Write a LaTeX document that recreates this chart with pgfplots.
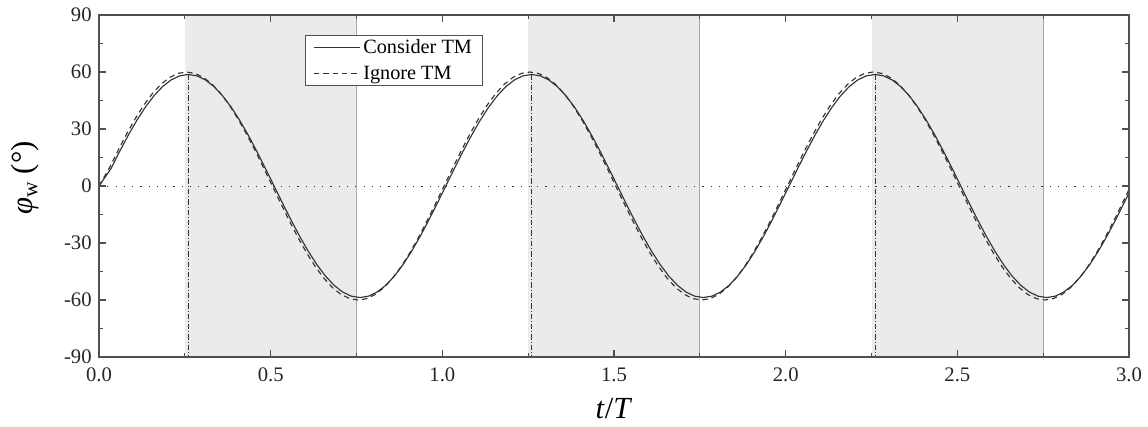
\documentclass[border=0pt]{standalone}
\usepackage{fontspec}
\setmainfont{Liberation Serif}
\usepackage{pgfplots}
\usepackage{pgfplotstable}
\pgfplotsset{compat=1.18}
\definecolor{shade}{HTML}{EBEBEB}
\definecolor{edge}{HTML}{A8A8A8}
\definecolor{curve}{HTML}{333333}
\definecolor{axc}{HTML}{505050}

\pgfplotstableread{
t v
0 0
0.035 9.18
0.06 18.14
0.085 26.65
0.11 34.50
0.135 41.51
0.16 47.49
0.185 52.30
0.21 55.83
0.235 57.98
0.26 58.70
0.285 57.98
0.31 55.83
0.335 52.30
0.36 47.49
0.385 41.51
0.41 34.50
0.435 26.65
0.46 18.14
0.485 9.18
0.51 0
0.535 -9.18
0.56 -18.14
0.585 -26.65
0.61 -34.50
0.635 -41.51
0.66 -47.49
0.685 -52.30
0.71 -55.83
0.735 -57.98
0.76 -58.70
0.785 -57.98
0.81 -55.83
0.835 -52.30
0.86 -47.49
0.885 -41.51
0.91 -34.50
0.935 -26.65
0.96 -18.14
0.985 -9.18
1.01 0
1.035 9.18
1.06 18.14
1.085 26.65
1.11 34.50
1.135 41.51
1.16 47.49
1.185 52.30
1.21 55.83
1.235 57.98
1.26 58.70
1.285 57.98
1.31 55.83
1.335 52.30
1.36 47.49
1.385 41.51
1.41 34.50
1.435 26.65
1.46 18.14
1.485 9.18
1.51 0
1.535 -9.18
1.56 -18.14
1.585 -26.65
1.61 -34.50
1.635 -41.51
1.66 -47.49
1.685 -52.30
1.71 -55.83
1.735 -57.98
1.76 -58.70
1.785 -57.98
1.81 -55.83
1.835 -52.30
1.86 -47.49
1.885 -41.51
1.91 -34.50
1.935 -26.65
1.96 -18.14
1.985 -9.18
2.01 0
2.035 9.18
2.06 18.14
2.085 26.65
2.11 34.50
2.135 41.51
2.16 47.49
2.185 52.30
2.21 55.83
2.235 57.98
2.26 58.70
2.285 57.98
2.31 55.83
2.335 52.30
2.36 47.49
2.385 41.51
2.41 34.50
2.435 26.65
2.46 18.14
2.485 9.18
2.51 0
2.535 -9.18
2.56 -18.14
2.585 -26.65
2.61 -34.50
2.635 -41.51
2.66 -47.49
2.685 -52.30
2.71 -55.83
2.735 -57.98
2.76 -58.70
2.785 -57.98
2.81 -55.83
2.835 -52.30
2.86 -47.49
2.885 -41.51
2.91 -34.50
2.935 -26.65
2.96 -18.14
2.985 -9.18
3 -3.69
}\consider

\pgfplotstableread{
t v
0 0
0.03 9.39
0.055 18.54
0.08 27.24
0.105 35.27
0.13 42.43
0.155 48.54
0.18 53.46
0.205 57.06
0.23 59.26
0.255 60.00
0.28 59.26
0.305 57.06
0.33 53.46
0.355 48.54
0.38 42.43
0.405 35.27
0.43 27.24
0.455 18.54
0.48 9.39
0.505 0
0.53 -9.39
0.555 -18.54
0.58 -27.24
0.605 -35.27
0.63 -42.43
0.655 -48.54
0.68 -53.46
0.705 -57.06
0.73 -59.26
0.755 -60.00
0.78 -59.26
0.805 -57.06
0.83 -53.46
0.855 -48.54
0.88 -42.43
0.905 -35.27
0.93 -27.24
0.955 -18.54
0.98 -9.39
1.005 0
1.03 9.39
1.055 18.54
1.08 27.24
1.105 35.27
1.13 42.43
1.155 48.54
1.18 53.46
1.205 57.06
1.23 59.26
1.255 60.00
1.28 59.26
1.305 57.06
1.33 53.46
1.355 48.54
1.38 42.43
1.405 35.27
1.43 27.24
1.455 18.54
1.48 9.39
1.505 0
1.53 -9.39
1.555 -18.54
1.58 -27.24
1.605 -35.27
1.63 -42.43
1.655 -48.54
1.68 -53.46
1.705 -57.06
1.73 -59.26
1.755 -60.00
1.78 -59.26
1.805 -57.06
1.83 -53.46
1.855 -48.54
1.88 -42.43
1.905 -35.27
1.93 -27.24
1.955 -18.54
1.98 -9.39
2.005 0
2.03 9.39
2.055 18.54
2.08 27.24
2.105 35.27
2.13 42.43
2.155 48.54
2.18 53.46
2.205 57.06
2.23 59.26
2.255 60.00
2.28 59.26
2.305 57.06
2.33 53.46
2.355 48.54
2.38 42.43
2.405 35.27
2.43 27.24
2.455 18.54
2.48 9.39
2.505 0
2.53 -9.39
2.555 -18.54
2.58 -27.24
2.605 -35.27
2.63 -42.43
2.655 -48.54
2.68 -53.46
2.705 -57.06
2.73 -59.26
2.755 -60.00
2.78 -59.26
2.805 -57.06
2.83 -53.46
2.855 -48.54
2.88 -42.43
2.905 -35.27
2.93 -27.24
2.955 -18.54
2.98 -9.39
3 -1.88
}\ignore

\begin{document}
\begin{tikzpicture}
\begin{axis}[
  name=ax,
  scale only axis,
  width=772.5pt, height=256.5pt,
  xmin=0, xmax=3, ymin=-90, ymax=90,
  axis on top,
  axis line style={axc, line width=0.8pt},
  xtick={0,0.5,...,3}, ytick={-90,-60,...,90},
  minor x tick num=1, minor y tick num=1,
  tick align=inside,
  major tick length=5pt, minor tick length=3pt,
  tick style={axc, line width=0.8pt},
  /pgf/number format/assume math mode=true,
  ticklabel style={font=\fontsize{15.5}{18}\selectfont, text=black!85},
  xticklabel style={/pgf/number format/fixed, /pgf/number format/fixed zerofill, /pgf/number format/precision=1, yshift=-4.5pt},
  yticklabel style={xshift=-2pt},
  xlabel={\textit{t}/\textit{T}},
  ylabel={\textit{φ}\textsubscript{w} (°)},
  xlabel style={font=\fontsize{23}{27}\selectfont, at={(axis description cs:0.5,-0.152)}, anchor=center},
  ylabel style={font=\fontsize{23}{27}\selectfont, at={(axis description cs:-0.0718,0.523)}, anchor=center},
  legend style={at={(axis description cs:0.2,0.9415)}, anchor=north west,
    draw=axc, line width=0.7pt, fill=white, font=\fontsize{15.2}{18}\selectfont,
    row sep=4pt, inner xsep=6pt, inner ysep=1pt},
  legend cell align=left,
  legend image code/.code={\draw[#1] (0cm,0cm) -- (34.5pt,0cm);},
]
% shaded half-periods
\addplot[fill=shade, draw=none, forget plot] coordinates {(0.25,-90) (0.25,90) (0.75,90) (0.75,-90)} -- cycle;
\addplot[fill=shade, draw=none, forget plot] coordinates {(1.25,-90) (1.25,90) (1.75,90) (1.75,-90)} -- cycle;
\addplot[fill=shade, draw=none, forget plot] coordinates {(2.25,-90) (2.25,90) (2.75,90) (2.75,-90)} -- cycle;
\addplot[edge, line width=0.8pt, forget plot] coordinates {(0.75,-90) (0.75,90)};
\addplot[edge, line width=0.8pt, forget plot] coordinates {(1.75,-90) (1.75,90)};
\addplot[edge, line width=0.8pt, forget plot] coordinates {(2.75,-90) (2.75,90)};
% dash-dot markers at the peaks
\addplot[curve, line width=0.6pt, dash pattern=on 4pt off 1.5pt on 0.8pt off 1.5pt, forget plot] coordinates {(0.26,58.7) (0.26,-90)};
\addplot[curve, line width=0.6pt, dash pattern=on 4pt off 1.5pt on 0.8pt off 1.5pt, forget plot] coordinates {(1.26,58.7) (1.26,-90)};
\addplot[curve, line width=0.6pt, dash pattern=on 4pt off 1.5pt on 0.8pt off 1.5pt, forget plot] coordinates {(2.26,58.7) (2.26,-90)};
% zero line
\addplot[curve, line width=0.7pt, dash pattern=on 0.9pt off 5.3pt, forget plot] coordinates {(0,0) (3,0)};
% curves
\addplot[curve, line width=0.85pt] table[x=t, y=v] {\consider};
\addlegendentry{Consider TM}
\addplot[curve, line width=0.85pt, dash pattern=on 4pt off 3pt] table[x=t, y=v] {\ignore};
\addlegendentry{Ignore TM}
\end{axis}
\pgfresetboundingbox
\useasboundingbox ([xshift=-74.25pt,yshift=-51.75pt]ax.south west) rectangle ([xshift=14.25pt,yshift=11.25pt]ax.north east);
\end{tikzpicture}
\end{document}
